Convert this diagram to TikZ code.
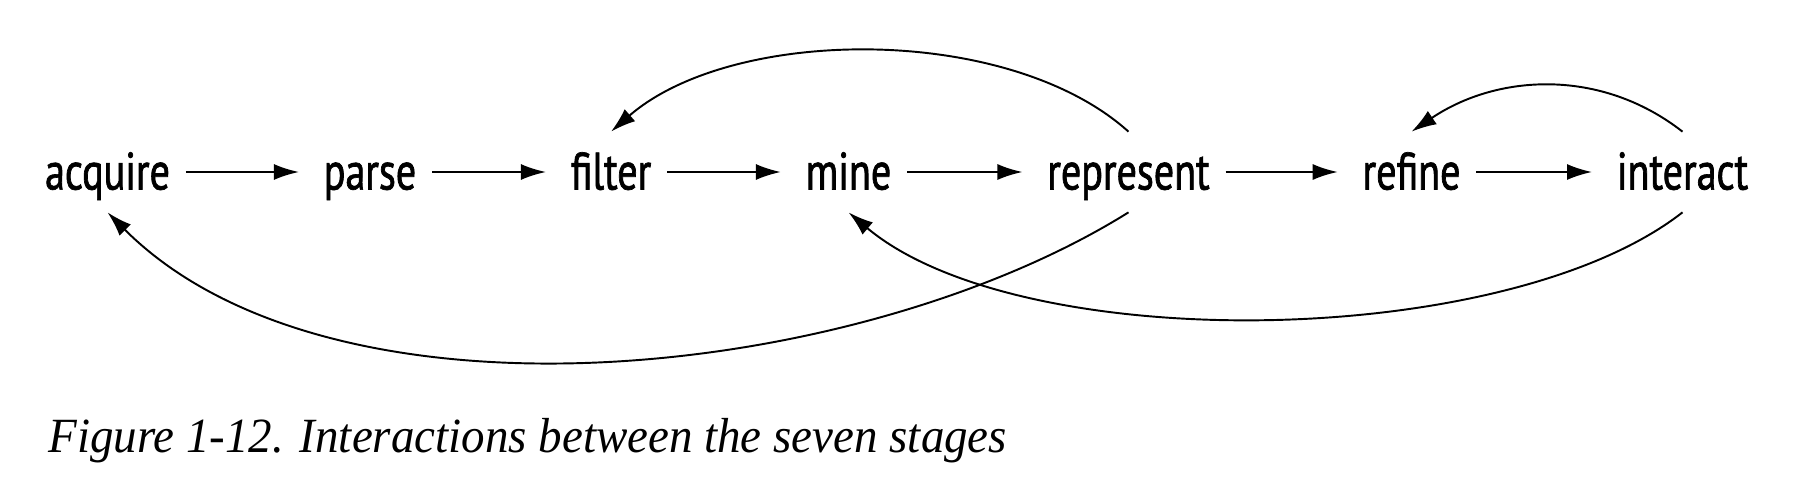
\documentclass[tikz,border=0pt]{standalone}
\usepackage{fontspec}
\setmainfont{Liberation Serif}
\newfontfamily\stagefont[FakeStretch=0.76,FakeBold=1.3]{PT Sans}
\newfontfamily\capfont[FakeStretch=0.955]{Liberation Serif}
\usetikzlibrary{arrows.meta}

\begin{document}
\begin{tikzpicture}
[   stage/.style={font=\stagefont\fontsize{30}{30}\selectfont,text height=0.7cm,text depth=0cm,inner xsep=0.31cm,inner ysep=0.45cm},
    flow/.style={line width=1.1pt,-{Latex[length=0.5cm,width=0.32cm]}}
]
    \useasboundingbox (0,0) rectangle (35.88,-9.96);
    \node[stage] (acquire) at (2.15,-3.44) {acquire};
    \node[stage] (parse) at (7.4,-3.44) {parse};
    \node[stage] (filter) at (12.22,-3.44) {filter};
    \node[stage] (mine) at (16.97,-3.44) {mine};
    \node[stage] (represent) at (22.57,-3.44) {represent};
    \node[stage] (refine) at (28.23,-3.44) {refine};
    \node[stage] (interact) at (33.65,-3.44) {interact};
    \draw[flow,shorten >=0.18cm] (acquire) -- (parse);
    \draw[flow,shorten >=0.18cm] (parse) -- (filter);
    \draw[flow,shorten >=0.18cm] (filter) -- (mine);
    \draw[flow,shorten >=0.18cm] (mine) -- (represent);
    \draw[flow,shorten >=0.18cm] (represent) -- (refine);
    \draw[flow,shorten >=0.18cm] (refine) -- (interact);
    % loops back
    \draw[flow] (represent.north) to[out=138,in=41,looseness=0.8] (filter.north);
    \draw[flow] (interact.north) to[out=142,in=34,looseness=0.98] (refine.north);
    \draw[flow] (represent.south) to[out=212,in=315,looseness=0.8] (acquire.south);
    \draw[flow] (interact.south) to[out=218,in=320,looseness=0.69] (mine.south);
    \node[font=\capfont\itshape\fontsize{28}{28}\selectfont,anchor=base west,inner sep=0] (caption) at (0.96,-9.05) {Figure 1-12. Interactions between the seven stages};
\end{tikzpicture}
\end{document}
